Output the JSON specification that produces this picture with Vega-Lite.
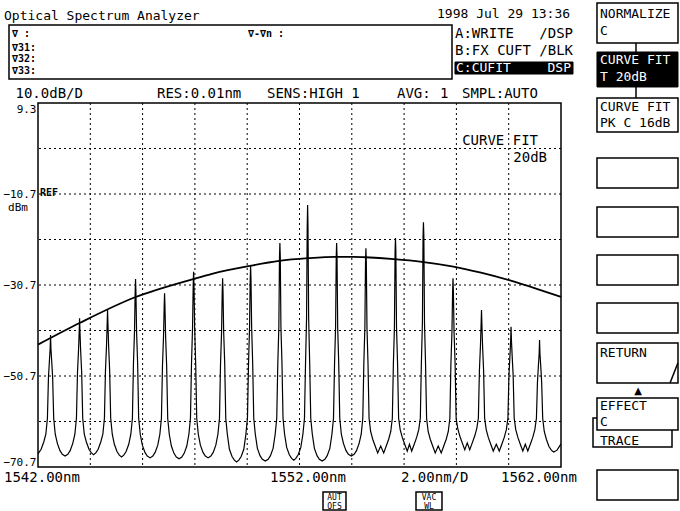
{
  "$schema": "https://vega.github.io/schema/vega-lite/v6.json",
  "width": 523,
  "height": 364,
  "autosize": {"type": "none"},
  "padding": {"left": 38, "top": 103, "right": 119, "bottom": 44},
  "background": "white",
  "config": {"view": {"stroke": "black", "strokeWidth": 1.5}},
  "datasets": {
    "spectrum": [
      {"nm":1542.00,"dbm":-67.8},{"nm":1542.12,"dbm":-66.8},{"nm":1542.22,"dbm":-65.2},{"nm":1542.30,"dbm":-63.5},{"nm":1542.36,"dbm":-60},{"nm":1542.40,"dbm":-51},{"nm":1542.44,"dbm":-47},{"nm":1542.465,"dbm":-44.7},{"nm":1542.48,"dbm":-41.7},{"nm":1542.495,"dbm":-44.7},{"nm":1542.52,"dbm":-47},{"nm":1542.56,"dbm":-51},{"nm":1542.60,"dbm":-60},{"nm":1542.66,"dbm":-63.5},{"nm":1542.74,"dbm":-65.5},{"nm":1542.84,"dbm":-67.1},{"nm":1542.93,"dbm":-67.9},{"nm":1543.035,"dbm":-68.3},
      {"nm":1543.14,"dbm":-67.9},{"nm":1543.23,"dbm":-67.1},{"nm":1543.33,"dbm":-65.5},{"nm":1543.41,"dbm":-63.5},{"nm":1543.47,"dbm":-60},{"nm":1543.51,"dbm":-50},{"nm":1543.55,"dbm":-45},{"nm":1543.575,"dbm":-41},{"nm":1543.59,"dbm":-38},{"nm":1543.605,"dbm":-41},{"nm":1543.63,"dbm":-45},{"nm":1543.67,"dbm":-50},{"nm":1543.71,"dbm":-60},{"nm":1543.77,"dbm":-63.5},{"nm":1543.85,"dbm":-65.2},{"nm":1543.95,"dbm":-66.8},{"nm":1544.04,"dbm":-67.6},{"nm":1544.125,"dbm":-68.0},
      {"nm":1544.21,"dbm":-67.6},{"nm":1544.30,"dbm":-66.8},{"nm":1544.40,"dbm":-65.2},{"nm":1544.48,"dbm":-63.5},{"nm":1544.54,"dbm":-60},{"nm":1544.58,"dbm":-49.5},{"nm":1544.62,"dbm":-44},{"nm":1544.645,"dbm":-39.2},{"nm":1544.66,"dbm":-36.2},{"nm":1544.675,"dbm":-39.2},{"nm":1544.70,"dbm":-44},{"nm":1544.74,"dbm":-49.5},{"nm":1544.78,"dbm":-60},{"nm":1544.84,"dbm":-63.5},{"nm":1544.92,"dbm":-65.7},{"nm":1545.02,"dbm":-67.3},{"nm":1545.11,"dbm":-68.1},{"nm":1545.195,"dbm":-68.5},
      {"nm":1545.28,"dbm":-68.1},{"nm":1545.37,"dbm":-67.3},{"nm":1545.47,"dbm":-65.7},{"nm":1545.55,"dbm":-63.5},{"nm":1545.61,"dbm":-60},{"nm":1545.65,"dbm":-48},{"nm":1545.69,"dbm":-41},{"nm":1545.715,"dbm":-32.4},{"nm":1545.73,"dbm":-29.4},{"nm":1545.745,"dbm":-32.4},{"nm":1545.77,"dbm":-41},{"nm":1545.81,"dbm":-48},{"nm":1545.85,"dbm":-60},{"nm":1545.91,"dbm":-63.5},{"nm":1545.99,"dbm":-65.9},{"nm":1546.09,"dbm":-67.5},{"nm":1546.18,"dbm":-68.3},{"nm":1546.285,"dbm":-68.7},
      {"nm":1546.39,"dbm":-68.3},{"nm":1546.48,"dbm":-67.5},{"nm":1546.58,"dbm":-65.9},{"nm":1546.66,"dbm":-63.5},{"nm":1546.72,"dbm":-60},{"nm":1546.76,"dbm":-48.5},{"nm":1546.80,"dbm":-42},{"nm":1546.825,"dbm":-35.5},{"nm":1546.84,"dbm":-32.5},{"nm":1546.855,"dbm":-35.5},{"nm":1546.88,"dbm":-42},{"nm":1546.92,"dbm":-48.5},{"nm":1546.96,"dbm":-60},{"nm":1547.02,"dbm":-63.5},{"nm":1547.10,"dbm":-66.1},{"nm":1547.20,"dbm":-67.7},{"nm":1547.29,"dbm":-68.5},{"nm":1547.395,"dbm":-68.9},
      {"nm":1547.50,"dbm":-68.5},{"nm":1547.59,"dbm":-67.7},{"nm":1547.69,"dbm":-66.1},{"nm":1547.77,"dbm":-63.5},{"nm":1547.83,"dbm":-60},{"nm":1547.87,"dbm":-48},{"nm":1547.91,"dbm":-40},{"nm":1547.935,"dbm":-30.8},{"nm":1547.95,"dbm":-27.8},{"nm":1547.965,"dbm":-30.8},{"nm":1547.99,"dbm":-40},{"nm":1548.03,"dbm":-48},{"nm":1548.07,"dbm":-60},{"nm":1548.13,"dbm":-63.5},{"nm":1548.21,"dbm":-65.9},{"nm":1548.31,"dbm":-67.5},{"nm":1548.40,"dbm":-68.3},{"nm":1548.505,"dbm":-68.7},
      {"nm":1548.61,"dbm":-68.3},{"nm":1548.70,"dbm":-67.5},{"nm":1548.80,"dbm":-65.9},{"nm":1548.88,"dbm":-63.5},{"nm":1548.94,"dbm":-60},{"nm":1548.98,"dbm":-48},{"nm":1549.02,"dbm":-41},{"nm":1549.045,"dbm":-32.2},{"nm":1549.06,"dbm":-29.2},{"nm":1549.075,"dbm":-32.2},{"nm":1549.10,"dbm":-41},{"nm":1549.14,"dbm":-48},{"nm":1549.18,"dbm":-60},{"nm":1549.24,"dbm":-63.5},{"nm":1549.32,"dbm":-66.8},{"nm":1549.42,"dbm":-68.4},{"nm":1549.51,"dbm":-69.2},{"nm":1549.595,"dbm":-69.6},
      {"nm":1549.68,"dbm":-69.2},{"nm":1549.77,"dbm":-68.4},{"nm":1549.87,"dbm":-66.8},{"nm":1549.95,"dbm":-63.5},{"nm":1550.01,"dbm":-60},{"nm":1550.05,"dbm":-48},{"nm":1550.09,"dbm":-40},{"nm":1550.115,"dbm":-29.5},{"nm":1550.13,"dbm":-26.5},{"nm":1550.145,"dbm":-29.5},{"nm":1550.17,"dbm":-40},{"nm":1550.21,"dbm":-48},{"nm":1550.25,"dbm":-60},{"nm":1550.31,"dbm":-63.5},{"nm":1550.39,"dbm":-66.6},{"nm":1550.49,"dbm":-68.2},{"nm":1550.58,"dbm":-69.0},{"nm":1550.69,"dbm":-69.4},
      {"nm":1550.80,"dbm":-69.0},{"nm":1550.89,"dbm":-68.2},{"nm":1550.99,"dbm":-66.6},{"nm":1551.07,"dbm":-63.5},{"nm":1551.13,"dbm":-60},{"nm":1551.17,"dbm":-48},{"nm":1551.21,"dbm":-40},{"nm":1551.235,"dbm":-24.5},{"nm":1551.25,"dbm":-21.5},{"nm":1551.265,"dbm":-24.5},{"nm":1551.29,"dbm":-40},{"nm":1551.33,"dbm":-48},{"nm":1551.37,"dbm":-60},{"nm":1551.43,"dbm":-63.5},{"nm":1551.51,"dbm":-66.4},{"nm":1551.61,"dbm":-68.0},{"nm":1551.70,"dbm":-68.8},{"nm":1551.78,"dbm":-69.2},
      {"nm":1551.86,"dbm":-68.8},{"nm":1551.95,"dbm":-68.0},{"nm":1552.05,"dbm":-66.4},{"nm":1552.13,"dbm":-63.5},{"nm":1552.19,"dbm":-60},{"nm":1552.23,"dbm":-48},{"nm":1552.27,"dbm":-38},{"nm":1552.295,"dbm":-18},{"nm":1552.31,"dbm":-13.1},{"nm":1552.325,"dbm":-18},{"nm":1552.35,"dbm":-38},{"nm":1552.39,"dbm":-48},{"nm":1552.43,"dbm":-60},{"nm":1552.49,"dbm":-63.5},{"nm":1552.57,"dbm":-66.6},{"nm":1552.67,"dbm":-68.2},{"nm":1552.76,"dbm":-69.0},{"nm":1552.865,"dbm":-69.4},
      {"nm":1552.97,"dbm":-69.0},{"nm":1553.06,"dbm":-68.2},{"nm":1553.16,"dbm":-66.6},{"nm":1553.24,"dbm":-63.5},{"nm":1553.30,"dbm":-60},{"nm":1553.34,"dbm":-48},{"nm":1553.38,"dbm":-40},{"nm":1553.405,"dbm":-24.5},{"nm":1553.42,"dbm":-21.5},{"nm":1553.435,"dbm":-24.5},{"nm":1553.46,"dbm":-40},{"nm":1553.50,"dbm":-48},{"nm":1553.54,"dbm":-60},{"nm":1553.60,"dbm":-63.5},{"nm":1553.68,"dbm":-65.5},{"nm":1553.78,"dbm":-67.1},{"nm":1553.87,"dbm":-67.9},{"nm":1553.98,"dbm":-68.3},
      {"nm":1554.09,"dbm":-67.9},{"nm":1554.18,"dbm":-67.1},{"nm":1554.28,"dbm":-65.5},{"nm":1554.36,"dbm":-63.5},{"nm":1554.42,"dbm":-60},{"nm":1554.46,"dbm":-48},{"nm":1554.50,"dbm":-40},{"nm":1554.525,"dbm":-25.6},{"nm":1554.54,"dbm":-22.6},{"nm":1554.555,"dbm":-25.6},{"nm":1554.58,"dbm":-40},{"nm":1554.62,"dbm":-48},{"nm":1554.66,"dbm":-60},{"nm":1554.72,"dbm":-62.9},{"nm":1554.80,"dbm":-64.6},{"nm":1554.90,"dbm":-66.2},{"nm":1554.99,"dbm":-67.6},{"nm":1555.105,"dbm":-66.1},
      {"nm":1555.22,"dbm":-67.6},{"nm":1555.31,"dbm":-66.2},{"nm":1555.41,"dbm":-64.6},{"nm":1555.49,"dbm":-62.9},{"nm":1555.55,"dbm":-60},{"nm":1555.59,"dbm":-48},{"nm":1555.63,"dbm":-40},{"nm":1555.655,"dbm":-23.4},{"nm":1555.67,"dbm":-20.4},{"nm":1555.685,"dbm":-23.4},{"nm":1555.71,"dbm":-40},{"nm":1555.75,"dbm":-48},{"nm":1555.79,"dbm":-60},{"nm":1555.85,"dbm":-62.5},{"nm":1555.93,"dbm":-64.2},{"nm":1556.03,"dbm":-65.8},{"nm":1556.12,"dbm":-67.2},{"nm":1556.205,"dbm":-65.7},
      {"nm":1556.29,"dbm":-67.2},{"nm":1556.38,"dbm":-65.8},{"nm":1556.48,"dbm":-64.2},{"nm":1556.56,"dbm":-62.5},{"nm":1556.62,"dbm":-60},{"nm":1556.66,"dbm":-48},{"nm":1556.70,"dbm":-39},{"nm":1556.725,"dbm":-19.9},{"nm":1556.74,"dbm":-16.9},{"nm":1556.755,"dbm":-19.9},{"nm":1556.78,"dbm":-39},{"nm":1556.82,"dbm":-48},{"nm":1556.86,"dbm":-60},{"nm":1556.92,"dbm":-62.9},{"nm":1557.00,"dbm":-64.6},{"nm":1557.10,"dbm":-66.2},{"nm":1557.19,"dbm":-67.6},{"nm":1557.305,"dbm":-66.1},
      {"nm":1557.42,"dbm":-67.6},{"nm":1557.51,"dbm":-66.2},{"nm":1557.61,"dbm":-64.6},{"nm":1557.69,"dbm":-62.9},{"nm":1557.75,"dbm":-60},{"nm":1557.79,"dbm":-48},{"nm":1557.83,"dbm":-41},{"nm":1557.855,"dbm":-32.2},{"nm":1557.87,"dbm":-29.2},{"nm":1557.885,"dbm":-32.2},{"nm":1557.91,"dbm":-41},{"nm":1557.95,"dbm":-48},{"nm":1557.99,"dbm":-60},{"nm":1558.05,"dbm":-62.2},{"nm":1558.13,"dbm":-63.9},{"nm":1558.23,"dbm":-65.5},{"nm":1558.32,"dbm":-66.9},{"nm":1558.415,"dbm":-65.4},
      {"nm":1558.51,"dbm":-66.9},{"nm":1558.60,"dbm":-65.5},{"nm":1558.70,"dbm":-63.9},{"nm":1558.78,"dbm":-62.2},{"nm":1558.84,"dbm":-60},{"nm":1558.88,"dbm":-49.5},{"nm":1558.92,"dbm":-44},{"nm":1558.945,"dbm":-39.2},{"nm":1558.96,"dbm":-36.2},{"nm":1558.975,"dbm":-39.2},{"nm":1559.00,"dbm":-44},{"nm":1559.04,"dbm":-49.5},{"nm":1559.08,"dbm":-60},{"nm":1559.14,"dbm":-62.5},{"nm":1559.22,"dbm":-64.2},{"nm":1559.32,"dbm":-65.8},{"nm":1559.41,"dbm":-67.2},{"nm":1559.525,"dbm":-65.7},
      {"nm":1559.64,"dbm":-67.2},{"nm":1559.73,"dbm":-65.8},{"nm":1559.83,"dbm":-64.2},{"nm":1559.91,"dbm":-62.5},{"nm":1559.97,"dbm":-60},{"nm":1560.01,"dbm":-50.5},{"nm":1560.05,"dbm":-46},{"nm":1560.075,"dbm":-42.9},{"nm":1560.09,"dbm":-39.9},{"nm":1560.105,"dbm":-42.9},{"nm":1560.13,"dbm":-46},{"nm":1560.17,"dbm":-50.5},{"nm":1560.21,"dbm":-60},{"nm":1560.27,"dbm":-62.5},{"nm":1560.35,"dbm":-64.2},{"nm":1560.45,"dbm":-65.8},{"nm":1560.54,"dbm":-67.2},{"nm":1560.635,"dbm":-65.7},
      {"nm":1560.73,"dbm":-67.2},{"nm":1560.82,"dbm":-65.8},{"nm":1560.92,"dbm":-64.2},{"nm":1561.00,"dbm":-62.5},{"nm":1561.06,"dbm":-60},{"nm":1561.10,"dbm":-52},{"nm":1561.14,"dbm":-48},{"nm":1561.165,"dbm":-45.8},{"nm":1561.18,"dbm":-42.8},{"nm":1561.195,"dbm":-45.8},{"nm":1561.22,"dbm":-48},{"nm":1561.26,"dbm":-52},{"nm":1561.30,"dbm":-60},{"nm":1561.36,"dbm":-62.9},{"nm":1561.44,"dbm":-64.6},{"nm":1561.54,"dbm":-66.2},{"nm":1561.63,"dbm":-67.0},{"nm":1561.72,"dbm":-67.4},{"nm":1561.85,"dbm":-67.0},{"nm":1562.00,"dbm":-65.6}
    ],
    "fit": [
      {"nm":1542.00,"dbm":-43.8},{"nm":1543.61,"dbm":-39.0},{"nm":1545.71,"dbm":-33.4},{"nm":1547.93,"dbm":-29.4},{"nm":1548.69,"dbm":-28.2},{"nm":1550.11,"dbm":-26.5},{"nm":1551.22,"dbm":-25.4},{"nm":1552.33,"dbm":-24.8},{"nm":1553.40,"dbm":-24.5},{"nm":1554.05,"dbm":-24.5},{"nm":1554.51,"dbm":-24.6},{"nm":1555.61,"dbm":-25.0},{"nm":1556.68,"dbm":-25.6},{"nm":1557.83,"dbm":-26.6},{"nm":1558.94,"dbm":-28.0},{"nm":1560.05,"dbm":-29.7},{"nm":1561.16,"dbm":-31.7},{"nm":1562.00,"dbm":-33.3}
    ],
    "texts": [
      {"g":"title","t":"Optical Spectrum Analyzer","nm":1540.70,"dbm":27.54},
      {"g":"title","t":"1998 Jul 29 13:36","nm":1557.258,"dbm":27.98},
      {"g":"status","t":"10.0dB/D","nm":1541.14,"dbm":10.40},
      {"g":"status","t":"RES:0.01nm","nm":1546.551,"dbm":10.40},
      {"g":"status","t":"SENS:HIGH 1","nm":1550.757,"dbm":10.40},
      {"g":"status","t":"AVG:","nm":1555.728,"dbm":10.40},
      {"g":"status","t":"1","nm":1557.373,"dbm":10.40},
      {"g":"status","t":"SMPL:AUTO","nm":1558.214,"dbm":10.40},
      {"g":"status","t":"A:WRITE","nm":1557.946,"dbm":23.59},
      {"g":"status","t":"B:FX CUFT","nm":1557.946,"dbm":19.85},
      {"g":"status","t":"1542.00nm","nm":1540.70,"dbm":-74.0},
      {"g":"status","t":"1552.00nm","nm":1550.872,"dbm":-74.0},
      {"g":"status","t":"2.00nm/D","nm":1555.881,"dbm":-74.0},
      {"g":"status","t":"1562.00nm","nm":1559.706,"dbm":-74.0},
      {"g":"soft","t":"NORMALIZE","nm":1563.491,"dbm":27.98},
      {"g":"soft","t":"C","nm":1563.491,"dbm":24.25},
      {"g":"soft","t":"CURVE FIT","nm":1563.491,"dbm":7.54},
      {"g":"soft","t":"PK C 16dB","nm":1563.491,"dbm":4.02},
      {"g":"soft","t":"RETURN","nm":1563.491,"dbm":-46.52},
      {"g":"soft","t":"EFFECT","nm":1563.491,"dbm":-58.17},
      {"g":"soft","t":"C","nm":1563.491,"dbm":-61.69},
      {"g":"soft","t":"TRACE","nm":1563.491,"dbm":-65.86},
      {"g":"right","t":"/DSP","nm":1562.459,"dbm":23.59},
      {"g":"right","t":"/BLK","nm":1562.459,"dbm":19.85},
      {"g":"right","t":"CURVE FIT","nm":1561.120,"dbm":0.07},
      {"g":"right","t":"20dB","nm":1561.465,"dbm":-3.67},
      {"g":"inv","t":"C:CUFIT","nm":1557.985,"dbm":16.11},
      {"g":"inv","t":"CURVE FIT","nm":1563.491,"dbm":17.87},
      {"g":"inv","t":"T 20dB","nm":1563.491,"dbm":14.14},
      {"g":"invr","t":"DSP","nm":1562.383,"dbm":16.11},
      {"g":"mark","t":"∇   :","nm":1541.006,"dbm":23.81},
      {"g":"mark","t":"∇31:","nm":1541.006,"dbm":20.73},
      {"g":"mark","t":"∇32:","nm":1541.006,"dbm":18.31},
      {"g":"mark","t":"∇33:","nm":1541.006,"dbm":15.67},
      {"g":"mark","t":"∇-∇n :","nm":1550.031,"dbm":23.81},
      {"g":"mark","t":"REF","nm":1542.076,"dbm":-11.14},
      {"g":"tiny","t":"AUT","nm":1553.338,"dbm":-77.95},
      {"g":"tiny","t":"OFS","nm":1553.338,"dbm":-79.93},
      {"g":"tiny","t":"VAC","nm":1556.952,"dbm":-77.95},
      {"g":"tiny","t":"WL","nm":1556.952,"dbm":-79.93},
      {"g":"unit","t":"dBm","nm":1540.853,"dbm":-14.4},
      {"g":"tri","t":"▲","nm":1564.945,"dbm":-54.7}
    ],
    "boxes": [
      {"g":"line","nm":1540.891,"nm2":1557.832,"dbm":26.44,"dbm2":14.57},
      {"g":"line","nm":1563.376,"nm2":1566.474,"dbm":31.28,"dbm2":22.49},
      {"g":"fill","nm":1563.376,"nm2":1566.474,"dbm":20.51,"dbm2":12.82},
      {"g":"line","nm":1563.376,"nm2":1566.474,"dbm":10.40,"dbm2":2.93},
      {"g":"line","nm":1563.376,"nm2":1566.474,"dbm":-2.79,"dbm2":-9.38},
      {"g":"line","nm":1563.376,"nm2":1566.474,"dbm":-13.56,"dbm2":-20.15},
      {"g":"line","nm":1563.376,"nm2":1566.474,"dbm":-24.11,"dbm2":-30.70},
      {"g":"line","nm":1563.376,"nm2":1566.474,"dbm":-34.66,"dbm2":-41.25},
      {"g":"line","nm":1563.376,"nm2":1566.474,"dbm":-43.45,"dbm2":-52.24},
      {"g":"line","nm":1563.224,"nm2":1566.245,"dbm":-59.93,"dbm2":-66.30},
      {"g":"line","nm":1563.376,"nm2":1566.474,"dbm":-55.53,"dbm2":-62.57},
      {"g":"line","nm":1563.376,"nm2":1566.474,"dbm":-71.36,"dbm2":-77.95},
      {"g":"line","nm":1552.899,"nm2":1553.778,"dbm":-76.20,"dbm2":-80.15},
      {"g":"line","nm":1556.455,"nm2":1557.449,"dbm":-76.20,"dbm2":-80.15},
      {"g":"fill","nm":1557.946,"nm2":1562.459,"dbm":18.31,"dbm2":15.67}
    ],
    "links": [
      {"nm":1564.868,"nm2":1564.868,"dbm":22.49,"dbm2":20.51},
      {"nm":1564.868,"nm2":1564.868,"dbm":12.82,"dbm2":10.40},
      {"nm":1566.17,"nm2":1566.47,"dbm":-52.24,"dbm2":-47.84}
    ]
  },
  "layer": [
    {
      "data": {"values": [{"nm":1544},{"nm":1546},{"nm":1548},{"nm":1550},{"nm":1552},{"nm":1554},{"nm":1556},{"nm":1558},{"nm":1560}]},
      "mark": {"type": "rule", "stroke": "black", "strokeWidth": 1, "strokeDash": [2, 3]},
      "encoding": {"x": {"field": "nm", "type": "quantitative", "scale": {"domain": [1542, 1562], "nice": false, "zero": false}, "axis": null}}
    },
    {
      "data": {"values": [{"dbm":-60.7},{"dbm":-50.7},{"dbm":-40.7},{"dbm":-30.7},{"dbm":-20.7},{"dbm":-10.7},{"dbm":-0.7}]},
      "mark": {"type": "rule", "stroke": "black", "strokeWidth": 1, "strokeDash": [2, 3]},
      "encoding": {"y": {"field": "dbm", "type": "quantitative", "scale": {"domain": [-70.7, 9.3], "nice": false, "zero": false},
          "axis": {"values": [-70.7, -50.7, -30.7, -10.7, 9.3], "format": ".1f", "labelFlush": true, "ticks": false, "domain": false, "grid": false, "title": null, "labelFont": "DejaVu Sans Mono", "labelFontSize": 11, "labelColor": "black", "labelPadding": 2}}}
    },
    {
      "data": {"name": "spectrum"},
      "mark": {"type": "line", "stroke": "black", "strokeWidth": 1.2, "clip": true},
      "encoding": {
        "x": {"field": "nm", "type": "quantitative", "scale": {"domain": [1542, 1562], "nice": false, "zero": false}, "axis": null},
        "y": {"field": "dbm", "type": "quantitative", "scale": {"domain": [-70.7, 9.3], "nice": false, "zero": false},
          "axis": {"values": [-70.7, -50.7, -30.7, -10.7, 9.3], "format": ".1f", "labelFlush": true, "ticks": false, "domain": false, "grid": false, "title": null, "labelFont": "DejaVu Sans Mono", "labelFontSize": 11, "labelColor": "black", "labelPadding": 2}}
      }
    },
    {
      "data": {"name": "fit"},
      "mark": {"type": "line", "stroke": "black", "strokeWidth": 1.8, "interpolate": "monotone"},
      "encoding": {
        "x": {"field": "nm", "type": "quantitative", "scale": {"domain": [1542, 1562], "nice": false, "zero": false}, "axis": null},
        "y": {"field": "dbm", "type": "quantitative", "scale": {"domain": [-70.7, 9.3], "nice": false, "zero": false},
          "axis": {"values": [-70.7, -50.7, -30.7, -10.7, 9.3], "format": ".1f", "labelFlush": true, "ticks": false, "domain": false, "grid": false, "title": null, "labelFont": "DejaVu Sans Mono", "labelFontSize": 11, "labelColor": "black", "labelPadding": 2}}
      }
    },
    {
      "data": {"name": "boxes"},
      "transform": [{"filter": "datum.g === 'line'"}],
      "mark": {"type": "rect", "fill": "white", "stroke": "black", "strokeWidth": 1.5},
      "encoding": {
        "x": {"field": "nm", "type": "quantitative", "scale": {"domain": [1542, 1562], "nice": false, "zero": false}, "axis": null},
        "x2": {"field": "nm2"},
        "y": {"field": "dbm", "type": "quantitative", "scale": {"domain": [-70.7, 9.3], "nice": false, "zero": false},
          "axis": {"values": [-70.7, -50.7, -30.7, -10.7, 9.3], "format": ".1f", "labelFlush": true, "ticks": false, "domain": false, "grid": false, "title": null, "labelFont": "DejaVu Sans Mono", "labelFontSize": 11, "labelColor": "black", "labelPadding": 2}},
        "y2": {"field": "dbm2"}
      }
    },
    {
      "data": {"name": "boxes"},
      "transform": [{"filter": "datum.g === 'fill'"}],
      "mark": {"type": "rect", "fill": "black", "stroke": "black", "strokeWidth": 1},
      "encoding": {
        "x": {"field": "nm", "type": "quantitative", "scale": {"domain": [1542, 1562], "nice": false, "zero": false}, "axis": null},
        "x2": {"field": "nm2"},
        "y": {"field": "dbm", "type": "quantitative", "scale": {"domain": [-70.7, 9.3], "nice": false, "zero": false},
          "axis": {"values": [-70.7, -50.7, -30.7, -10.7, 9.3], "format": ".1f", "labelFlush": true, "ticks": false, "domain": false, "grid": false, "title": null, "labelFont": "DejaVu Sans Mono", "labelFontSize": 11, "labelColor": "black", "labelPadding": 2}},
        "y2": {"field": "dbm2"}
      }
    },
    {
      "data": {"name": "links"},
      "mark": {"type": "rule", "stroke": "black", "strokeWidth": 1.5},
      "encoding": {
        "x": {"field": "nm", "type": "quantitative", "scale": {"domain": [1542, 1562], "nice": false, "zero": false}, "axis": null},
        "x2": {"field": "nm2"},
        "y": {"field": "dbm", "type": "quantitative", "scale": {"domain": [-70.7, 9.3], "nice": false, "zero": false},
          "axis": {"values": [-70.7, -50.7, -30.7, -10.7, 9.3], "format": ".1f", "labelFlush": true, "ticks": false, "domain": false, "grid": false, "title": null, "labelFont": "DejaVu Sans Mono", "labelFontSize": 11, "labelColor": "black", "labelPadding": 2}},
        "y2": {"field": "dbm2"}
      }
    },
    {
      "data": {"name": "texts"},
      "transform": [{"filter": "datum.g === 'title'"}],
      "mark": {"type": "text", "font": "DejaVu Sans Mono", "fontSize": 13, "align": "left", "baseline": "alphabetic", "color": "black"},
      "encoding": {
        "x": {"field": "nm", "type": "quantitative", "scale": {"domain": [1542, 1562], "nice": false, "zero": false}, "axis": null},
        "y": {"field": "dbm", "type": "quantitative", "scale": {"domain": [-70.7, 9.3], "nice": false, "zero": false},
          "axis": {"values": [-70.7, -50.7, -30.7, -10.7, 9.3], "format": ".1f", "labelFlush": true, "ticks": false, "domain": false, "grid": false, "title": null, "labelFont": "DejaVu Sans Mono", "labelFontSize": 11, "labelColor": "black", "labelPadding": 2}},
        "text": {"field": "t"}
      }
    },
    {
      "data": {"name": "texts"},
      "transform": [{"filter": "datum.g === 'status'"}],
      "mark": {"type": "text", "font": "DejaVu Sans Mono", "fontSize": 14, "align": "left", "baseline": "alphabetic", "color": "black"},
      "encoding": {
        "x": {"field": "nm", "type": "quantitative", "scale": {"domain": [1542, 1562], "nice": false, "zero": false}, "axis": null},
        "y": {"field": "dbm", "type": "quantitative", "scale": {"domain": [-70.7, 9.3], "nice": false, "zero": false},
          "axis": {"values": [-70.7, -50.7, -30.7, -10.7, 9.3], "format": ".1f", "labelFlush": true, "ticks": false, "domain": false, "grid": false, "title": null, "labelFont": "DejaVu Sans Mono", "labelFontSize": 11, "labelColor": "black", "labelPadding": 2}},
        "text": {"field": "t"}
      }
    },
    {
      "data": {"name": "texts"},
      "transform": [{"filter": "datum.g === 'soft'"}],
      "mark": {"type": "text", "font": "DejaVu Sans Mono", "fontSize": 13, "align": "left", "baseline": "alphabetic", "color": "black"},
      "encoding": {
        "x": {"field": "nm", "type": "quantitative", "scale": {"domain": [1542, 1562], "nice": false, "zero": false}, "axis": null},
        "y": {"field": "dbm", "type": "quantitative", "scale": {"domain": [-70.7, 9.3], "nice": false, "zero": false},
          "axis": {"values": [-70.7, -50.7, -30.7, -10.7, 9.3], "format": ".1f", "labelFlush": true, "ticks": false, "domain": false, "grid": false, "title": null, "labelFont": "DejaVu Sans Mono", "labelFontSize": 11, "labelColor": "black", "labelPadding": 2}},
        "text": {"field": "t"}
      }
    },
    {
      "data": {"name": "texts"},
      "transform": [{"filter": "datum.g === 'right'"}],
      "mark": {"type": "text", "font": "DejaVu Sans Mono", "fontSize": 14, "align": "right", "baseline": "alphabetic", "color": "black"},
      "encoding": {
        "x": {"field": "nm", "type": "quantitative", "scale": {"domain": [1542, 1562], "nice": false, "zero": false}, "axis": null},
        "y": {"field": "dbm", "type": "quantitative", "scale": {"domain": [-70.7, 9.3], "nice": false, "zero": false},
          "axis": {"values": [-70.7, -50.7, -30.7, -10.7, 9.3], "format": ".1f", "labelFlush": true, "ticks": false, "domain": false, "grid": false, "title": null, "labelFont": "DejaVu Sans Mono", "labelFontSize": 11, "labelColor": "black", "labelPadding": 2}},
        "text": {"field": "t"}
      }
    },
    {
      "data": {"name": "texts"},
      "transform": [{"filter": "datum.g === 'inv'"}],
      "mark": {"type": "text", "font": "DejaVu Sans Mono", "fontSize": 13, "align": "left", "baseline": "alphabetic", "color": "white"},
      "encoding": {
        "x": {"field": "nm", "type": "quantitative", "scale": {"domain": [1542, 1562], "nice": false, "zero": false}, "axis": null},
        "y": {"field": "dbm", "type": "quantitative", "scale": {"domain": [-70.7, 9.3], "nice": false, "zero": false},
          "axis": {"values": [-70.7, -50.7, -30.7, -10.7, 9.3], "format": ".1f", "labelFlush": true, "ticks": false, "domain": false, "grid": false, "title": null, "labelFont": "DejaVu Sans Mono", "labelFontSize": 11, "labelColor": "black", "labelPadding": 2}},
        "text": {"field": "t"}
      }
    },
    {
      "data": {"name": "texts"},
      "transform": [{"filter": "datum.g === 'invr'"}],
      "mark": {"type": "text", "font": "DejaVu Sans Mono", "fontSize": 13, "align": "right", "baseline": "alphabetic", "color": "white"},
      "encoding": {
        "x": {"field": "nm", "type": "quantitative", "scale": {"domain": [1542, 1562], "nice": false, "zero": false}, "axis": null},
        "y": {"field": "dbm", "type": "quantitative", "scale": {"domain": [-70.7, 9.3], "nice": false, "zero": false},
          "axis": {"values": [-70.7, -50.7, -30.7, -10.7, 9.3], "format": ".1f", "labelFlush": true, "ticks": false, "domain": false, "grid": false, "title": null, "labelFont": "DejaVu Sans Mono", "labelFontSize": 11, "labelColor": "black", "labelPadding": 2}},
        "text": {"field": "t"}
      }
    },
    {
      "data": {"name": "texts"},
      "transform": [{"filter": "datum.g === 'mark'"}],
      "mark": {"type": "text", "font": "DejaVu Sans Mono", "fontSize": 10, "fontWeight": "bold", "align": "left", "baseline": "alphabetic", "color": "black"},
      "encoding": {
        "x": {"field": "nm", "type": "quantitative", "scale": {"domain": [1542, 1562], "nice": false, "zero": false}, "axis": null},
        "y": {"field": "dbm", "type": "quantitative", "scale": {"domain": [-70.7, 9.3], "nice": false, "zero": false},
          "axis": {"values": [-70.7, -50.7, -30.7, -10.7, 9.3], "format": ".1f", "labelFlush": true, "ticks": false, "domain": false, "grid": false, "title": null, "labelFont": "DejaVu Sans Mono", "labelFontSize": 11, "labelColor": "black", "labelPadding": 2}},
        "text": {"field": "t"}
      }
    },
    {
      "data": {"name": "texts"},
      "transform": [{"filter": "datum.g === 'tiny'"}],
      "mark": {"type": "text", "font": "DejaVu Sans Mono", "fontSize": 8, "align": "center", "baseline": "alphabetic", "color": "black"},
      "encoding": {
        "x": {"field": "nm", "type": "quantitative", "scale": {"domain": [1542, 1562], "nice": false, "zero": false}, "axis": null},
        "y": {"field": "dbm", "type": "quantitative", "scale": {"domain": [-70.7, 9.3], "nice": false, "zero": false},
          "axis": {"values": [-70.7, -50.7, -30.7, -10.7, 9.3], "format": ".1f", "labelFlush": true, "ticks": false, "domain": false, "grid": false, "title": null, "labelFont": "DejaVu Sans Mono", "labelFontSize": 11, "labelColor": "black", "labelPadding": 2}},
        "text": {"field": "t"}
      }
    },
    {
      "data": {"name": "texts"},
      "transform": [{"filter": "datum.g === 'unit'"}],
      "mark": {"type": "text", "font": "DejaVu Sans Mono", "fontSize": 11, "align": "left", "baseline": "alphabetic", "color": "black"},
      "encoding": {
        "x": {"field": "nm", "type": "quantitative", "scale": {"domain": [1542, 1562], "nice": false, "zero": false}, "axis": null},
        "y": {"field": "dbm", "type": "quantitative", "scale": {"domain": [-70.7, 9.3], "nice": false, "zero": false},
          "axis": {"values": [-70.7, -50.7, -30.7, -10.7, 9.3], "format": ".1f", "labelFlush": true, "ticks": false, "domain": false, "grid": false, "title": null, "labelFont": "DejaVu Sans Mono", "labelFontSize": 11, "labelColor": "black", "labelPadding": 2}},
        "text": {"field": "t"}
      }
    },
    {
      "data": {"name": "texts"},
      "transform": [{"filter": "datum.g === 'tri'"}],
      "mark": {"type": "text", "font": "DejaVu Sans", "fontSize": 10, "align": "center", "baseline": "alphabetic", "color": "black"},
      "encoding": {
        "x": {"field": "nm", "type": "quantitative", "scale": {"domain": [1542, 1562], "nice": false, "zero": false}, "axis": null},
        "y": {"field": "dbm", "type": "quantitative", "scale": {"domain": [-70.7, 9.3], "nice": false, "zero": false},
          "axis": {"values": [-70.7, -50.7, -30.7, -10.7, 9.3], "format": ".1f", "labelFlush": true, "ticks": false, "domain": false, "grid": false, "title": null, "labelFont": "DejaVu Sans Mono", "labelFontSize": 11, "labelColor": "black", "labelPadding": 2}},
        "text": {"field": "t"}
      }
    }
  ]
}
